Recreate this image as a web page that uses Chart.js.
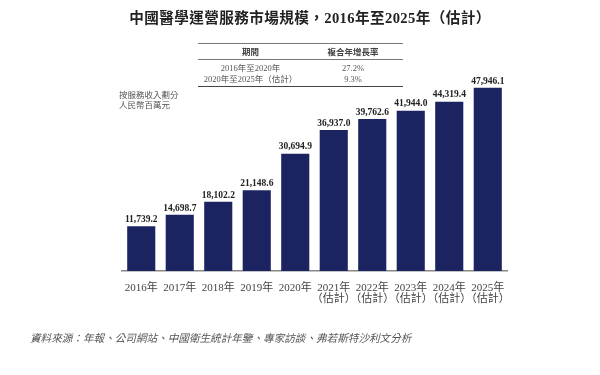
<!DOCTYPE html>
<html>
<head>
<meta charset="utf-8">
<script src="https://cdn.jsdelivr.net/npm/chart.js@4"></script>
<style>
  html, body { margin: 0; padding: 0; background: #fff; }
  .wrap { position: relative; width: 600px; height: 375px; overflow: hidden;
    font-family: "Liberation Serif", "Noto Sans CJK TC", serif; color: #333; }
  canvas { position: absolute; left: 0; top: 0; }
  .title { position: absolute; left: 0; width: 620px; top: 6px; text-align: center;
    font-family: "Liberation Serif", "Noto Sans CJK TC", sans-serif;
    font-weight: bold; font-size: 14.6px; color: #222; letter-spacing: 0.4px; }
  .tbl { position: absolute; left: 198px; top: 43px; width: 205px;
    border-top: 1.5px solid #777; border-bottom: 1.5px solid #444; font-size: 8.5px; color: #555; }
  .tbl .row { display: flex; }
  .tbl .row span { flex: 1; text-align: center; }
  .tbl .row span:first-child { flex: 1.05; }
  .tbl .head { font-weight: bold; color: #444; border-bottom: 1px solid #777;
    height: 15px; line-height: 15px; font-family: "Noto Sans CJK TC", sans-serif; }
  .tbl .body { padding: 3px 0 2px; line-height: 10.5px; }
  .unit { position: absolute; left: 119px; top: 90px; font-size: 8.5px; line-height: 9.5px;
    color: #555; font-family: "Noto Sans CJK TC", serif; }
  .source { position: absolute; left: 30px; top: 330px; font-size: 10.6px; font-style: italic;
    color: #555; font-family: "Noto Sans CJK TC", serif; }
</style>
</head>
<body>
<div class="wrap">
  <canvas id="c" width="600" height="375"></canvas>
  <div class="title">中國醫學運營服務市場規模，2016年至2025年（估計）</div>
  <div class="tbl">
    <div class="row head"><span>期間</span><span>複合年增長率</span></div>
    <div class="body">
      <div class="row"><span>2016年至2020年</span><span>27.2%</span></div>
      <div class="row"><span>2020年至2025年（估計）</span><span>9.3%</span></div>
    </div>
  </div>
  <div class="unit">按服務收入劃分<br>人民幣百萬元</div>
  <div class="source">資料來源：年報、公司網站、中國衛生統計年鑒、專家訪談、弗若斯特沙利文分析</div>
</div>
<script>
// market size, RMB million
const years = ["2016年", "2017年", "2018年", "2019年", "2020年",
  "2021年", "2022年", "2023年", "2024年", "2025年"];
const estimated = [false, false, false, false, false, true, true, true, true, true];
const values = [11739.2, 14698.7, 18102.2, 21148.6, 30694.9,
  36937.0, 39762.6, 41944.0, 44319.4, 47946.1];

const labels = years.map((y, i) => estimated[i] ? [y, "（估計）"] : y);

const BAR = "#1b2461";

// value above each bar
const valueLabels = {
  id: "valueLabels",
  afterDatasetsDraw(chart) {
    const ctx = chart.ctx;
    const meta = chart.getDatasetMeta(0);
    ctx.save();
    ctx.font = "bold 9.5px 'Liberation Serif', serif";
    ctx.fillStyle = "#222";
    ctx.textAlign = "center";
    ctx.textBaseline = "bottom";
    meta.data.forEach((bar, i) => {
      const txt = values[i].toLocaleString("en-US", { minimumFractionDigits: 1, maximumFractionDigits: 1 });
      ctx.fillText(txt, bar.x, bar.y - 2);
    });
    ctx.restore();
  },
};

new Chart(document.getElementById("c"), {
  type: "bar",
  data: {
    labels,
    datasets: [{
      data: values,
      backgroundColor: BAR,
      borderWidth: 0,
      barPercentage: 0.73,
      categoryPercentage: 1,
    }],
  },
  options: {
    responsive: false,
    animation: false,
    layout: { padding: { left: 122, right: 93, top: 80, bottom: 64 } },
    plugins: { legend: { display: false }, tooltip: { enabled: false } },
    scales: {
      x: {
        grid: { display: false },
        border: { display: true, color: "#888", width: 1.5 },
        afterFit(scale) { scale.height = 40; },
        ticks: {
          color: "#444",
          padding: 4,
          maxRotation: 0,
          autoSkip: false,
          font: { family: "'Liberation Serif', 'Noto Sans CJK TC', serif", size: 11, lineHeight: 1.0 },
        },
      },
      y: {
        display: false,
        min: 0,
        max: 50000,
      },
    },
  },
  plugins: [valueLabels],
});
</script>
</body>
</html>
